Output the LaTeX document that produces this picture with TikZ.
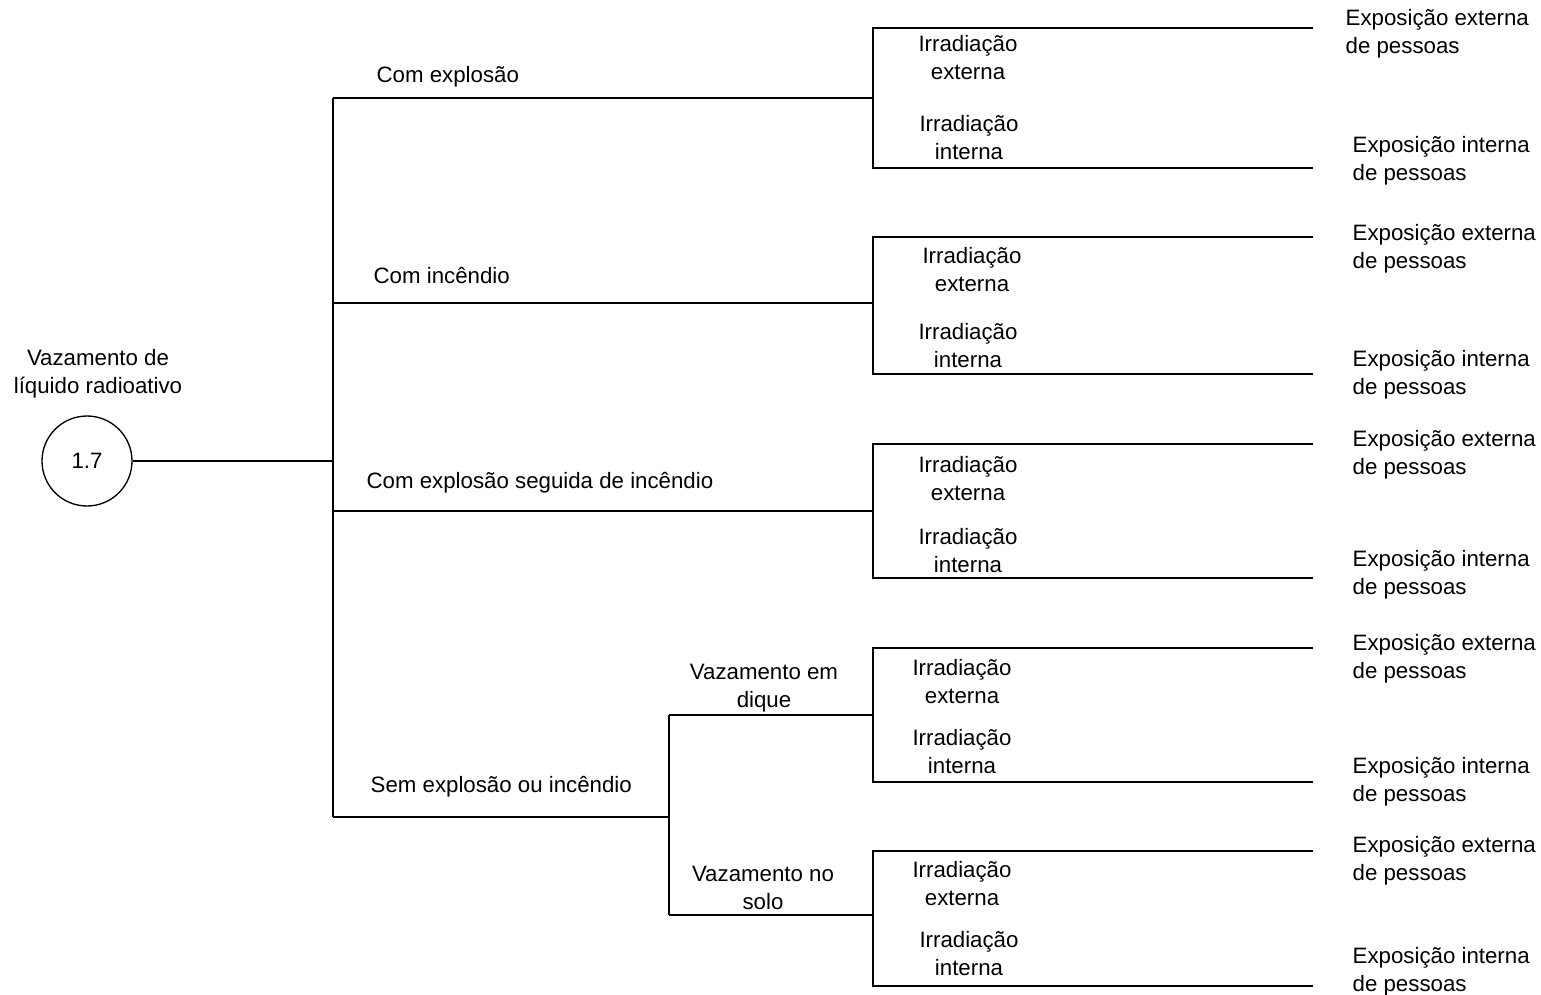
\documentclass[tikz,border=0pt]{standalone}
\usepackage{fontspec}
\setmainfont{Liberation Sans}
\begin{document}
\begin{tikzpicture}[x=0.75pt,y=-0.75pt,line width=1pt,
  txt/.style={font=\fontsize{16.7}{21}\selectfont, inner sep=0pt, align=center},
  txtl/.style={font=\fontsize{16.7}{21}\selectfont, inner sep=0pt, align=left, anchor=west},
  rootnode/.style={circle, draw, line width=1pt, minimum size=67.5pt, inner sep=0pt, font=\fontsize{16.7}{21}\selectfont}]
\useasboundingbox (0,0) rectangle (1541,995);

% root
\node[txt] (title) at (98,374) {Vazamento de\\líquido radioativo};
\node[rootnode] (root) at (87,461) {1.7};

% main junction
\coordinate (j0) at (333,461);
\coordinate (j1) at (333,98);
\coordinate (j2) at (333,303);
\coordinate (j3) at (333,511);
\coordinate (j4) at (333,817);
\draw (root) -- (j0);
\draw (j1) -- (j4);

% branch labels
\node[txtl] (b1) at (376,77) {Com explosão};
\node[txtl] (b2) at (373,276) {Com incêndio};
\node[txtl] (b3) at (366,483) {Com explosão seguida de incêndio};
\node[txtl] (b4) at (370,787) {Sem explosão ou incêndio};

% sub junction
\coordinate (k4) at (669,817);
\coordinate (k4a) at (669,715);
\coordinate (k4b) at (669,915);
\draw (j4) -- (k4);
\draw (k4a) -- (k4b);
\node[txt] (s1) at (764,688) {Vazamento em\\dique};
\node[txt] (s2) at (763,888) {Vazamento no\\solo};

% groups
\foreach \i/\t/\m/\b in {1/28/98/168, 2/237/303/374, 3/444/511/578, 4/648/715/782, 5/851/915/986}{
  \coordinate (g\i t) at (873,\t);
  \coordinate (g\i m) at (873,\m);
  \coordinate (g\i b) at (873,\b);
  \coordinate (e\i t) at (1313,\t);
  \coordinate (e\i b) at (1313,\b);
  \draw (e\i t) -- (g\i t) -- (g\i b) -- (e\i b);
}
\draw (j1) -- (g1m);
\draw (j2) -- (g2m);
\draw (j3) -- (g3m);
\draw (k4a) -- (g4m);
\draw (k4b) -- (g5m);

% Irradiação labels
\node[txt] (ie1) at (968,58) {Irradiação\\externa};
\node[txt] (ii1) at (969,138) {Irradiação\\interna};
\node[txt] (ie2) at (972,270) {Irradiação\\externa};
\node[txt] (ii2) at (968,346) {Irradiação\\interna};
\node[txt] (ie3) at (968,479) {Irradiação\\externa};
\node[txt] (ii3) at (968,551) {Irradiação\\interna};
\node[txt] (ie4) at (962,682) {Irradiação\\externa};
\node[txt] (ii4) at (962,752) {Irradiação\\interna};
\node[txt] (ie5) at (962,884) {Irradiação\\externa};
\node[txt] (ii5) at (969,954) {Irradiação\\interna};

% Exposição labels
\node[txtl] (ee1) at (1345,34) {Exposição externa\\de pessoas};
\node[txtl] (ei1) at (1352,161) {Exposição interna\\de pessoas};
\node[txtl] (ee2) at (1352,249) {Exposição externa\\de pessoas};
\node[txtl] (ei2) at (1352,375) {Exposição interna\\de pessoas};
\node[txtl] (ee3) at (1352,455) {Exposição externa\\de pessoas};
\node[txtl] (ei3) at (1352,575) {Exposição interna\\de pessoas};
\node[txtl] (ee4) at (1352,659) {Exposição externa\\de pessoas};
\node[txtl] (ei4) at (1352,782) {Exposição interna\\de pessoas};
\node[txtl] (ee5) at (1352,861) {Exposição externa\\de pessoas};
\node[txtl] (ei5) at (1352,972) {Exposição interna\\de pessoas};
\end{tikzpicture}
\end{document}
